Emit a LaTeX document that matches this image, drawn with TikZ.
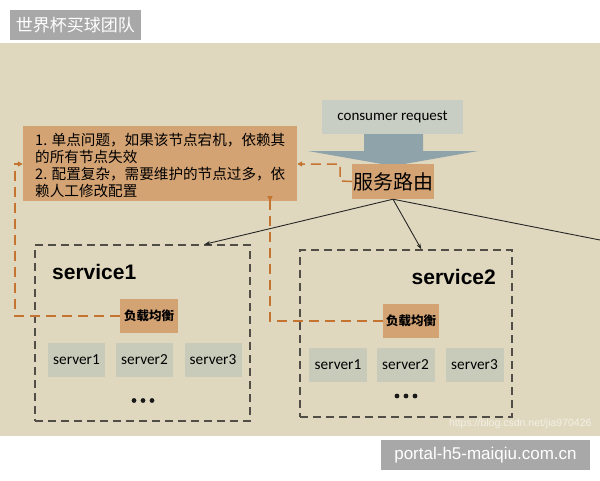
\documentclass[tikz,border=0pt]{standalone}
\usepackage{fontspec}
\setmainfont{Liberation Sans}
\newfontfamily\cjk{Noto Sans CJK SC}
\newfontfamily\carl{Carlito}
\usetikzlibrary{arrows.meta}
\definecolor{bgc}{RGB}{224,216,190}
\definecolor{tagc}{RGB}{168,168,168}
\definecolor{orangebox}{RGB}{212,163,116}
\definecolor{grayboxc}{RGB}{200,203,186}
\definecolor{reqc}{RGB}{201,206,196}
\definecolor{arrowc}{RGB}{143,163,170}
\definecolor{dashc}{RGB}{196,116,48}
\definecolor{framec}{RGB}{80,78,70}
\tikzset{
  tag/.style={fill=tagc, text=white, inner sep=0pt},
  obox/.style={fill=orangebox, inner sep=0pt},
  serverbox/.style={fill=grayboxc, inner sep=0pt, minimum width=57pt, minimum height=34pt, font=\carl\fontsize{15.3}{15.3}\selectfont},
  frame/.style={draw=framec, line width=1.3pt, dash pattern=on 8pt off 5pt, inner sep=0pt},
  odash/.style={draw=dashc, line width=1.5pt, dash pattern=on 10pt off 6pt},
  otip/.style={-{Triangle[length=5pt,width=5pt]}},
  link/.style={draw=black!85, line width=0.9pt, -{Stealth[length=6pt,width=4pt]}},
  dotc/.style={fill=black!90},
}
\begin{document}
\begin{tikzpicture}[x=1pt,y=-1pt]
\useasboundingbox (0,0) rectangle (600,480);
\fill[white] (0,0) rectangle (600,480);
\fill[bgc] (0,43) rectangle (600,436);

% labels on top / bottom
\node[tag, minimum width=131pt, minimum height=30pt, font=\cjk\fontsize{17}{17}\selectfont] (title) at (75.5,25) {世界杯买球团队};
\node[tag, minimum width=209pt, minimum height=30pt, font=\fontsize{17}{17}\selectfont] (site) at (485.5,455) {portal-h5-maiqiu.com.cn};
\node[text=white, opacity=0.6, font=\fontsize{10.5}{10.5}\selectfont, anchor=east] (wm) at (595,424) {https://blog.csdn.net/jia970426};

% problem text box
\node[obox, minimum width=274pt, minimum height=75pt] (issues) at (160,163.5) {};
\node[anchor=north west, align=left, inner sep=0pt, font=\cjk\fontsize{14.6}{17}\selectfont] (issuestext) at (35,132.5)
  {1. 单点问题，如果该节点宕机，依赖其\\的所有节点失效\\2. 配置复杂，需要维护的节点过多，依\\赖人工修改配置};

% consumer request and big arrow
\node[fill=reqc, inner sep=0pt, minimum width=141pt, minimum height=34pt, font=\carl\fontsize{15}{15}\selectfont] (req) at (392.5,117) {consumer request};
\fill[arrowc] (364,134) -- (423,134) -- (423,151) -- (478,151) -- (393,166) -- (308,151) -- (364,151) -- cycle;

% router
\node[obox, minimum width=82pt, minimum height=35pt, font=\cjk\fontsize{20}{20}\selectfont] (router) at (393,181.5) {服务路由};

% service frames
\node[frame, minimum width=215pt, minimum height=176pt] (s1) at (142.5,333) {};
\node[frame, minimum width=212pt, minimum height=167pt] (s2) at (406,333.5) {};
\node[anchor=west, inner sep=0pt, font=\bfseries\fontsize{21}{21}\selectfont] (s1label) at (52,272) {service1};
\node[anchor=east, inner sep=0pt, font=\bfseries\fontsize{21}{21}\selectfont] (s2label) at (496,277) {service2};

% load balancers
\node[obox, minimum width=58pt, minimum height=34pt, font=\cjk\bfseries\fontsize{12.5}{12.5}\selectfont] (lb1) at (149,316) {负载均衡};
\node[obox, minimum width=56pt, minimum height=34pt, font=\cjk\bfseries\fontsize{12.5}{12.5}\selectfont] (lb2) at (411,321) {负载均衡};

% servers
\node[serverbox] (a1) at (76.5,360) {server1};
\node[serverbox] (a2) at (144.5,360) {server2};
\node[serverbox] (a3) at (213,360) {server3};
\node[serverbox, minimum width=58pt] (b1) at (338,365) {server1};
\node[serverbox, minimum width=58pt] (b2) at (405.5,365) {server2};
\node[serverbox, minimum width=58pt] (b3) at (474.5,365) {server3};

% ellipses
\coordinate (d1) at (143,400.5);
\coordinate (d2) at (406,396);
\foreach \c in {d1,d2}{
  \fill[dotc] ([xshift=-9pt]\c) circle (2.4pt);
  \fill[dotc] (\c) circle (2.4pt);
  \fill[dotc] ([xshift=9pt]\c) circle (2.4pt);
}

% router links
\coordinate (s1in) at ([xshift=170pt]s1.north west);
\coordinate (s2in) at ([xshift=122pt]s2.north west);
\coordinate (offright) at (600,240);
\draw[link] (router.south) -- (s1in);
\draw[link] (router.south) -- (s2in);
\draw[draw=black!85, line width=0.9pt] (router.south) -- (offright);

% orange dashed feedback lines
\draw[odash, otip] (lb1.west) -| (15,164) -- (issues.west |- 0,164);
\draw[odash, otip] (lb2.west) -| (270,201) -- (issues.south -| 270,0);
\draw[odash, otip] (router.west) -- (340,181) -- (340,164) -- (issues.east |- 0,164);
\end{tikzpicture}
\end{document}
